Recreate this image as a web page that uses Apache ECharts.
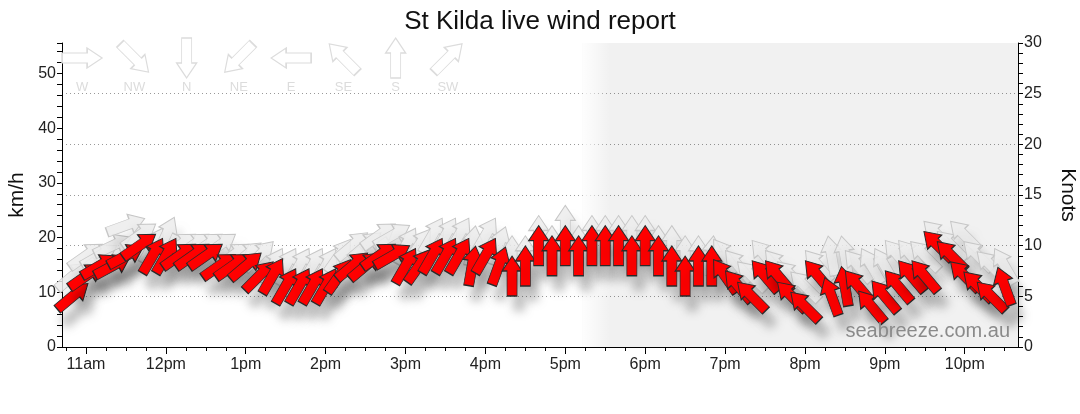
<!DOCTYPE html>
<html><head><meta charset="utf-8">
<script src="https://cdn.jsdelivr.net/npm/echarts@6/dist/echarts.min.js"></script>
<style>html,body{margin:0;padding:0;background:#fff}#c{width:1080px;height:414px}</style>
</head><body><div id="c"></div>
<script>
const times = ["10:50",
 "11:00","11:10","11:20","11:30","11:40","11:50",
 "12:00","12:10","12:20","12:30","12:40","12:50",
 "13:00","13:10","13:20","13:30","13:40","13:50",
 "14:00","14:10","14:20","14:30","14:40","14:50",
 "15:00","15:10","15:20","15:30","15:40","15:50",
 "16:00","16:10","16:20","16:30","16:40","16:50",
 "17:00","17:10","17:20","17:30","17:40","17:50",
 "18:00","18:10","18:20","18:30","18:40","18:50",
 "19:00","19:10","19:20","19:30","19:40","19:50",
 "20:00","20:10","20:20","20:30","20:40","20:50",
 "21:00","21:10","21:20","21:30","21:40","21:50",
 "22:00","22:10","22:20","22:30"];
// average wind speed (knots) and direction wind comes from (degrees)
const windKnots = [5,7,8,8,9,10,9,9,9,9,9,8,8,8,7,7,6,6,6,6,7,8,8,9,9,8,8,9,9,9,8,9,8,7,8,10,9,10,9,10,10,10,9,10,9,8,7,8,8,7,6,5,7,7,5,4,7,5,6,6,4,5,6,7,7,10,9,7,6,5,6];
const windDir = [230,235,240,242,242,235,210,210,235,235,235,235,235,230,225,210,210,210,210,210,215,230,230,235,240,210,215,210,210,210,190,210,200,
 180,180,180,180,180,180,180,180,180,180,180,180,180,180,180,180,
 145,140,135,140,140,135,135,140,160,170,140,140,140,140,140,140,135,135,135,135,135,160];
// gusts (knots) and direction
const gustKnots = [7,9,9,10,12,11,10,11,10,10,10,10,9,9,9,8,8,8,8,8,9,10,10,11,11,10,10,11,11,11,10,11,10,9,9,11,10,12,10,11,11,11,11,11,10,10,9,9,9,9,8,7,9,8,7,6,8,9,9,8,8,8,9,9,9,11,10,11,9,8,8];
const gustDir = [230,235,240,245,250,235,210,205,235,235,235,235,235,230,225,210,210,210,210,210,215,230,230,235,240,210,215,210,210,210,190,210,200,
 180,180,180,180,180,180,180,180,180,180,180,180,180,180,180,185,
 145,140,135,140,140,135,135,140,170,170,140,150,150,140,140,135,135,135,135,135,135,150];
const hourTicks = [11,12,13,14,15,16,17,18,19,20,21,22];
const hourLabels = ['11am','12pm','1pm','2pm','3pm','4pm','5pm','6pm','7pm','8pm','9pm','10pm'];
const compassLabels = ['W','NW','N','NE','E','SE','S','SW'];
const compassDir = [270,315,0,45,90,135,180,225];
const sunsetTime = '17:13';
const axisStart = '10:42', axisEnd = '22:40';
const KMH_PER_KNOT = 1.852;
const knotsMax = 30;

function toHours(s){ const p = s.split(':'); return +p[0] + (+p[1])/60; }
const ARROW = 'path://M10,0L20,15L15,15L15,40L5,40L5,15L0,15Z';
const rot = d => -(d + 180);
const xMin = toHours(axisStart), xMax = toHours(axisEnd);
const quarterTicks = [];
for (let q = Math.ceil(xMin*4); q <= Math.floor(xMax*4); q++) { if (q % 4) quarterTicks.push(q/4); }

const windData = times.map((t,i)=>({value:[toHours(t), windKnots[i]], symbolRotate: rot(windDir[i])}));
const gustData = times.map((t,i)=>({value:[toHours(t), gustKnots[i]], symbolRotate: rot(gustDir[i])}));
const legendData = compassDir.map((d,k)=>({value:[k, 0.5], symbolRotate: rot(d)}));

const FONT = 'Liberation Sans, Arial, sans-serif';
const chart = echarts.init(document.getElementById('c'));
chart.setOption({
  animation: false,
  backgroundColor: '#fff',
  textStyle: {fontFamily: FONT},
  title: {text: 'St Kilda live wind report', left: 'center', top: 4,
    textStyle: {fontSize: 26, fontWeight: 'normal', color: '#111', fontFamily: FONT}},
  grid: [
    {left: 62, right: 62, top: 43, bottom: 67, outerBoundsMode: 'none', containLabel: false},
    {left: 56, width: 418, top: 38, height: 40, outerBoundsMode: 'none', containLabel: false}
  ],
  xAxis: [
    {type: 'value', gridIndex: 0, min: xMin, max: xMax,
     axisLine: {lineStyle: {color: '#000'}},
     axisTick: {length: 7, customValues: hourTicks, lineStyle: {color: '#000'}},
     axisLabel: {customValues: hourTicks, fontSize: 16, color: '#222', margin: 10,
       formatter: v => hourLabels[hourTicks.indexOf(Math.round(v))]},
     splitLine: {show: false}},
    {type: 'value', gridIndex: 0, min: xMin, max: xMax, position: 'bottom',
     axisLine: {show: false},
     axisTick: {length: 4, customValues: quarterTicks, lineStyle: {color: '#000'}},
     axisLabel: {show: false}, splitLine: {show: false}},
    {type: 'category', gridIndex: 1, data: compassLabels,
     axisLine: {show: false}, axisTick: {show: false},
     axisLabel: {color: '#dcdcdc', fontSize: 13, margin: 3}, splitLine: {show: false}}
  ],
  yAxis: [
    {type: 'value', gridIndex: 0, position: 'left', min: 0, max: knotsMax*KMH_PER_KNOT, interval: 2,
     name: 'km/h', nameLocation: 'middle', nameGap: 34,
     nameTextStyle: {fontSize: 21, color: '#111'},
     axisLine: {show: true, lineStyle: {color: '#000'}},
     axisTick: {show: true, length: 5, lineStyle: {color: '#000'}},
     axisLabel: {fontSize: 16, color: '#222', margin: 6,
       formatter: v => (Math.abs(v % 10) < 1e-6 ? String(Math.round(v)) : '')},
     splitLine: {show: false}},
    {type: 'value', gridIndex: 0, position: 'right', min: 0, max: knotsMax, interval: 5,
     name: 'Knots', nameLocation: 'middle', nameGap: 39, nameRotate: -90,
     nameTextStyle: {fontSize: 21, color: '#111'},
     axisLine: {show: true, lineStyle: {color: '#000'}},
     axisTick: {show: true, length: 5, lineStyle: {color: '#000'}},
     minorTick: {show: true, splitNumber: 5, length: 5, lineStyle: {color: '#000'}},
     axisLabel: {fontSize: 16, color: '#222', margin: 6},
     splitLine: {show: true, showMinLine: false, showMaxLine: false,
       lineStyle: {type: [1, 3], color: '#999'}}},
    {type: 'value', gridIndex: 1, min: 0, max: 1, show: false}
  ],
  series: [
    {type: 'scatter', xAxisIndex: 0, yAxisIndex: 1, data: [], silent: true, z: 1,
     markArea: {silent: true, itemStyle: {color: 'rgba(0,0,0,0.055)'},
       data: [[{xAxis: toHours(sunsetTime)}, {xAxis: xMax}]]}},
    {type: 'scatter', xAxisIndex: 0, yAxisIndex: 1, silent: true, z: 1,
     markArea: {silent: true,
       itemStyle: {color: {type: 'linear', x: 0, y: 0, x2: 1, y2: 0,
         colorStops: [{offset: 0, color: 'rgba(255,255,255,0.9)'}, {offset: 1, color: 'rgba(255,255,255,0)'}]}},
       data: [[{xAxis: toHours(sunsetTime)}, {xAxis: toHours(sunsetTime) + 0.35}]]},
     data: []},
    {name: 'Gust', type: 'scatter', xAxisIndex: 0, yAxisIndex: 1, symbol: ARROW, symbolSize: [20, 40],
     data: gustData, silent: true, z: 3,
     itemStyle: {color: 'rgba(236,236,236,0.85)', borderColor: '#c6c6c6', borderWidth: 1, opacity: 1,
       shadowBlur: 8, shadowOffsetX: 6, shadowOffsetY: 12, shadowColor: 'rgba(0,0,0,0.12)'}},
    {name: 'Wind', type: 'scatter', xAxisIndex: 0, yAxisIndex: 1, symbol: ARROW, symbolSize: [20, 40],
     data: windData, silent: true, z: 4,
     itemStyle: {color: '#ff0000', borderColor: '#2a2a2a', borderWidth: 1, opacity: 1,
       shadowBlur: 10, shadowOffsetX: 7, shadowOffsetY: 14, shadowColor: 'rgba(0,0,0,0.25)'}},
    {name: 'Compass', type: 'scatter', xAxisIndex: 2, yAxisIndex: 2, symbol: ARROW, symbolSize: [20, 40],
     data: legendData, silent: true, z: 2,
     itemStyle: {color: '#fff', borderColor: '#dcdcdc', borderWidth: 1.2, opacity: 1}}
  ],
  graphic: [
    {type: 'text', right: 70, top: 321, silent: true, z: 10,
     style: {text: 'seabreeze.com.au', fontSize: 20, fill: '#8a8a8a', fontFamily: FONT}}
  ]
});
</script></body></html>
